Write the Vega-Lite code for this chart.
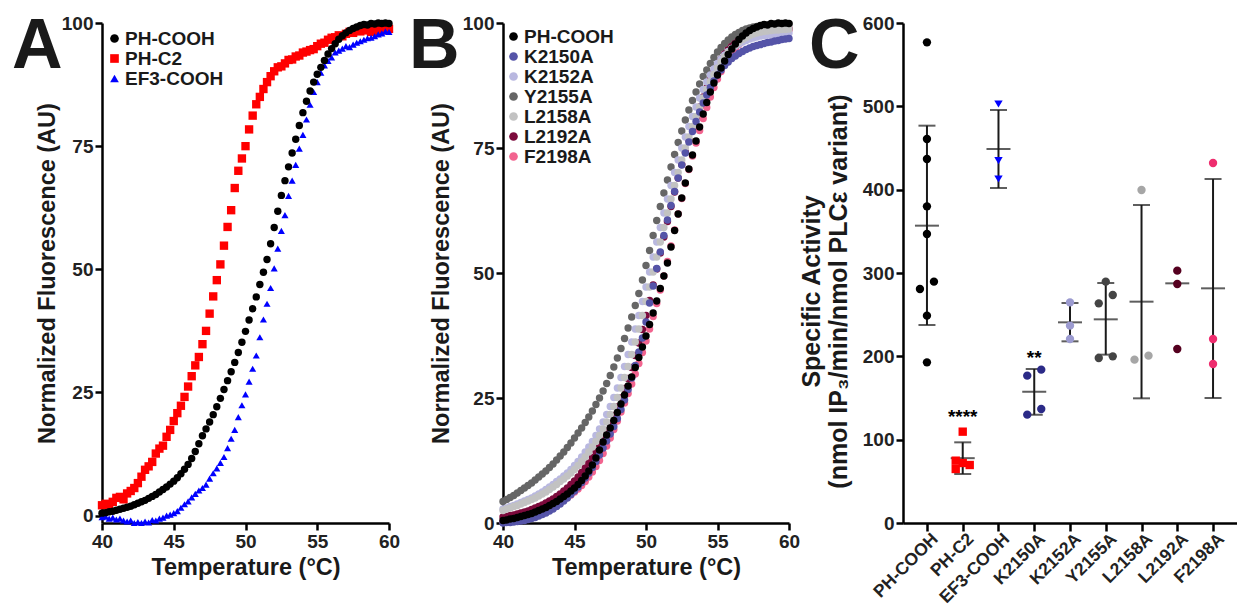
{
"$schema": "https://vega.github.io/schema/vega-lite/v6.json",
"background": "white",
"padding": {"left": 12, "top": 12, "right": 0, "bottom": 0},
"spacing": 114,
"bounds": "flush",
"config": {
  "font": "Liberation Sans",
  "view": {"stroke": null},
  "axis": {"grid": false, "domain": true, "ticks": true, "labelFlush": false, "domainColor": "#000", "domainWidth": 2.5, "tickColor": "#000", "tickWidth": 2.5, "tickSize": 7, "labelFont": "Liberation Sans", "labelFontSize": 19, "labelFontWeight": "bold", "labelColor": "#222", "labelPadding": 2, "titleFont": "Liberation Sans", "titleFontSize": 23.5, "titleFontWeight": "bold", "titleColor": "#1a1a1a"},
  "legend": {"labelFont": "Liberation Sans", "labelFontSize": 19, "labelFontWeight": "bold", "labelColor": "#1a1a1a", "padding": 0, "rowPadding": 0, "symbolStrokeWidth": 0},
  "title": {"font": "Liberation Sans", "fontWeight": "bold", "fontSize": 70, "color": "#1a1a1a", "anchor": "start", "frame": "group", "offset": 0}
},
"resolve": {"scale": {"x": "independent", "y": "independent", "color": "independent", "shape": "independent"}, "legend": {"color": "independent", "shape": "independent"}},
"datasets": {
"phcooh": [{"t":40,"v":0.5},{"t":40.25,"v":0.6},{"t":40.5,"v":0.8},{"t":40.75,"v":0.9},{"t":41,"v":1.1},{"t":41.25,"v":1.3},{"t":41.5,"v":1.5},{"t":41.75,"v":1.7},{"t":42,"v":1.9},{"t":42.25,"v":2.2},{"t":42.5,"v":2.5},{"t":42.75,"v":2.8},{"t":43,"v":3.1},{"t":43.25,"v":3.5},{"t":43.5,"v":3.9},{"t":43.75,"v":4.3},{"t":44,"v":4.8},{"t":44.25,"v":5.3},{"t":44.5,"v":5.8},{"t":44.75,"v":6.4},{"t":45,"v":7.0},{"t":45.25,"v":7.7},{"t":45.5,"v":8.5},{"t":45.75,"v":9.4},{"t":46,"v":10.4},{"t":46.25,"v":11.6},{"t":46.5,"v":13.0},{"t":46.75,"v":14.6},{"t":47,"v":16.2},{"t":47.25,"v":17.6},{"t":47.5,"v":19.0},{"t":47.75,"v":20.5},{"t":48,"v":22.1},{"t":48.25,"v":23.8},{"t":48.5,"v":25.6},{"t":48.75,"v":27.4},{"t":49,"v":29.2},{"t":49.25,"v":31.1},{"t":49.5,"v":33.1},{"t":49.75,"v":35.2},{"t":50,"v":37.4},{"t":50.25,"v":39.7},{"t":50.5,"v":42.0},{"t":50.75,"v":44.4},{"t":51,"v":46.9},{"t":51.25,"v":49.4},{"t":51.5,"v":52.0},{"t":51.75,"v":55.2},{"t":52,"v":58.5},{"t":52.25,"v":61.8},{"t":52.5,"v":65.0},{"t":52.75,"v":68.0},{"t":53,"v":70.8},{"t":53.25,"v":73.6},{"t":53.5,"v":76.4},{"t":53.75,"v":79.2},{"t":54,"v":81.8},{"t":54.25,"v":84.1},{"t":54.5,"v":86.2},{"t":54.75,"v":88.0},{"t":55,"v":89.6},{"t":55.25,"v":91.0},{"t":55.5,"v":92.4},{"t":55.75,"v":93.7},{"t":56,"v":94.8},{"t":56.25,"v":95.8},{"t":56.5,"v":96.7},{"t":56.75,"v":97.4},{"t":57,"v":98.0},{"t":57.25,"v":98.5},{"t":57.5,"v":98.9},{"t":57.75,"v":99.2},{"t":58,"v":99.5},{"t":58.25,"v":99.7},{"t":58.5,"v":99.6},{"t":58.75,"v":99.9},{"t":59,"v":99.8},{"t":59.25,"v":100},{"t":59.5,"v":99.9},{"t":59.75,"v":100},{"t":60,"v":99.9}],
"phc2": [{"t":40,"v":2.1},{"t":40.25,"v":2.4},{"t":40.5,"v":2.2},{"t":40.75,"v":2.8},{"t":41,"v":3.6},{"t":41.25,"v":3.8},{"t":41.5,"v":3.3},{"t":41.75,"v":4.5},{"t":42,"v":5.0},{"t":42.25,"v":5.6},{"t":42.5,"v":6.6},{"t":42.75,"v":7.9},{"t":43,"v":9.3},{"t":43.25,"v":10.0},{"t":43.5,"v":10.9},{"t":43.75,"v":12.6},{"t":44,"v":13.6},{"t":44.25,"v":14.2},{"t":44.5,"v":16.0},{"t":44.75,"v":17.4},{"t":45,"v":19.2},{"t":45.25,"v":20.8},{"t":45.5,"v":22.3},{"t":45.75,"v":24.1},{"t":46,"v":26.2},{"t":46.25,"v":28.3},{"t":46.5,"v":30.5},{"t":46.75,"v":32.2},{"t":47,"v":34.8},{"t":47.25,"v":37.5},{"t":47.5,"v":41.0},{"t":47.75,"v":44.5},{"t":48,"v":47.8},{"t":48.25,"v":51.0},{"t":48.5,"v":54.8},{"t":48.75,"v":58.6},{"t":49,"v":62.0},{"t":49.25,"v":66.5},{"t":49.5,"v":70.0},{"t":49.75,"v":72.5},{"t":50,"v":75.0},{"t":50.25,"v":78.4},{"t":50.5,"v":81.2},{"t":50.75,"v":83.5},{"t":51,"v":85.0},{"t":51.25,"v":86.6},{"t":51.5,"v":88.0},{"t":51.75,"v":89.2},{"t":52,"v":90.2},{"t":52.25,"v":91.0},{"t":52.5,"v":91.2},{"t":52.75,"v":91.8},{"t":53,"v":92.5},{"t":53.25,"v":92.6},{"t":53.5,"v":93.2},{"t":53.75,"v":93.4},{"t":54,"v":94.0},{"t":54.25,"v":94.2},{"t":54.5,"v":94.5},{"t":54.75,"v":94.7},{"t":55,"v":95.3},{"t":55.25,"v":95.8},{"t":55.5,"v":96.0},{"t":55.75,"v":96.6},{"t":56,"v":97.0},{"t":56.25,"v":97.1},{"t":56.5,"v":97.5},{"t":56.75,"v":97.3},{"t":57,"v":97.8},{"t":57.25,"v":98.2},{"t":57.5,"v":98.0},{"t":57.75,"v":98.4},{"t":58,"v":98.3},{"t":58.25,"v":98.7},{"t":58.5,"v":98.5},{"t":58.75,"v":98.2},{"t":59,"v":98.6},{"t":59.25,"v":98.4},{"t":59.5,"v":98.8},{"t":59.75,"v":98.5},{"t":60,"v":98.8}],
"ef3": [{"t":40,"v":-0.3},{"t":40.25,"v":-0.2},{"t":40.5,"v":-0.6},{"t":40.75,"v":-0.4},{"t":41,"v":-0.8},{"t":41.25,"v":-0.6},{"t":41.5,"v":-1.0},{"t":41.75,"v":-1.2},{"t":42,"v":-1.0},{"t":42.25,"v":-1.5},{"t":42.5,"v":-1.3},{"t":42.75,"v":-1.5},{"t":43,"v":-1.2},{"t":43.25,"v":-1.4},{"t":43.5,"v":-0.9},{"t":43.75,"v":-1.0},{"t":44,"v":-0.6},{"t":44.25,"v":-0.4},{"t":44.5,"v":0.0},{"t":44.75,"v":0.2},{"t":45,"v":0.5},{"t":45.25,"v":0.9},{"t":45.5,"v":1.6},{"t":45.75,"v":2.3},{"t":46,"v":2.9},{"t":46.25,"v":3.7},{"t":46.5,"v":4.4},{"t":46.75,"v":5.1},{"t":47,"v":5.6},{"t":47.25,"v":6.3},{"t":47.5,"v":7.5},{"t":47.75,"v":8.6},{"t":48,"v":9.6},{"t":48.25,"v":10.7},{"t":48.5,"v":11.9},{"t":48.75,"v":13.7},{"t":49,"v":15.6},{"t":49.25,"v":17.4},{"t":49.5,"v":20.0},{"t":49.75,"v":22.4},{"t":50,"v":24.6},{"t":50.25,"v":27.2},{"t":50.5,"v":29.8},{"t":50.75,"v":32.5},{"t":51,"v":36.2},{"t":51.25,"v":39.8},{"t":51.5,"v":43.0},{"t":51.75,"v":46.2},{"t":52,"v":50.2},{"t":52.25,"v":54.2},{"t":52.5,"v":57.8},{"t":52.75,"v":61.0},{"t":53,"v":64.9},{"t":53.25,"v":68.0},{"t":53.5,"v":71.2},{"t":53.75,"v":74.5},{"t":54,"v":77.3},{"t":54.25,"v":80.4},{"t":54.5,"v":83.4},{"t":54.75,"v":86.0},{"t":55,"v":88.0},{"t":55.25,"v":89.9},{"t":55.5,"v":91.4},{"t":55.75,"v":92.3},{"t":56,"v":93.0},{"t":56.25,"v":94.0},{"t":56.5,"v":94.4},{"t":56.75,"v":94.8},{"t":57,"v":95.3},{"t":57.25,"v":95.1},{"t":57.5,"v":95.6},{"t":57.75,"v":96.0},{"t":58,"v":96.3},{"t":58.25,"v":96.6},{"t":58.5,"v":96.9},{"t":58.75,"v":97.0},{"t":59,"v":97.3},{"t":59.25,"v":97.7},{"t":59.5,"v":97.9},{"t":59.75,"v":98.3},{"t":60,"v":98.2}],
"k2150a": [{"t":40,"v":0.0},{"t":40.25,"v":0.1},{"t":40.5,"v":0.1},{"t":40.75,"v":0.2},{"t":41,"v":0.3},{"t":41.25,"v":0.4},{"t":41.5,"v":0.5},{"t":41.75,"v":0.7},{"t":42,"v":0.9},{"t":42.25,"v":1.1},{"t":42.5,"v":1.4},{"t":42.75,"v":1.7},{"t":43,"v":2.0},{"t":43.25,"v":2.4},{"t":43.5,"v":2.8},{"t":43.75,"v":3.3},{"t":44,"v":3.8},{"t":44.25,"v":4.4},{"t":44.5,"v":5.0},{"t":44.75,"v":5.7},{"t":45,"v":6.4},{"t":45.25,"v":7.2},{"t":45.5,"v":8.1},{"t":45.75,"v":9.0},{"t":46,"v":10.0},{"t":46.25,"v":11.1},{"t":46.5,"v":12.3},{"t":46.75,"v":13.6},{"t":47,"v":15.0},{"t":47.25,"v":16.4},{"t":47.5,"v":17.8},{"t":47.75,"v":19.3},{"t":48,"v":20.9},{"t":48.25,"v":22.7},{"t":48.5,"v":24.6},{"t":48.75,"v":26.7},{"t":49,"v":29.0},{"t":49.25,"v":31.5},{"t":49.5,"v":34.2},{"t":49.75,"v":37.0},{"t":50,"v":40.2},{"t":50.25,"v":44.0},{"t":50.5,"v":47.4},{"t":50.75,"v":50.9},{"t":51,"v":54.2},{"t":51.25,"v":57.5},{"t":51.5,"v":60.6},{"t":51.75,"v":63.5},{"t":52,"v":66.3},{"t":52.25,"v":69.0},{"t":52.5,"v":71.6},{"t":52.75,"v":74.0},{"t":53,"v":76.2},{"t":53.25,"v":78.3},{"t":53.5,"v":80.3},{"t":53.75,"v":82.2},{"t":54,"v":84.0},{"t":54.25,"v":85.6},{"t":54.5,"v":87.1},{"t":54.75,"v":88.4},{"t":55,"v":89.6},{"t":55.25,"v":90.6},{"t":55.5,"v":91.5},{"t":55.75,"v":92.2},{"t":56,"v":92.9},{"t":56.25,"v":93.4},{"t":56.5,"v":93.9},{"t":56.75,"v":94.3},{"t":57,"v":94.7},{"t":57.25,"v":95.0},{"t":57.5,"v":95.3},{"t":57.75,"v":95.5},{"t":58,"v":95.7},{"t":58.25,"v":95.9},{"t":58.5,"v":96.1},{"t":58.75,"v":96.2},{"t":59,"v":96.4},{"t":59.25,"v":96.5},{"t":59.5,"v":96.7},{"t":59.75,"v":96.8},{"t":60,"v":96.9}],
"k2152a": [{"t":40,"v":2.8},{"t":40.25,"v":3.0},{"t":40.5,"v":3.3},{"t":40.75,"v":3.5},{"t":41,"v":3.8},{"t":41.25,"v":4.1},{"t":41.5,"v":4.4},{"t":41.75,"v":4.7},{"t":42,"v":5.0},{"t":42.25,"v":5.4},{"t":42.5,"v":5.8},{"t":42.75,"v":6.2},{"t":43,"v":6.7},{"t":43.25,"v":7.2},{"t":43.5,"v":7.7},{"t":43.75,"v":8.3},{"t":44,"v":8.8},{"t":44.25,"v":9.4},{"t":44.5,"v":10.0},{"t":44.75,"v":10.7},{"t":45,"v":11.5},{"t":45.25,"v":12.3},{"t":45.5,"v":13.2},{"t":45.75,"v":14.2},{"t":46,"v":15.2},{"t":46.25,"v":16.3},{"t":46.5,"v":17.5},{"t":46.75,"v":18.8},{"t":47,"v":20.2},{"t":47.25,"v":21.7},{"t":47.5,"v":23.3},{"t":47.75,"v":25.1},{"t":48,"v":27.0},{"t":48.25,"v":29.1},{"t":48.5,"v":31.3},{"t":48.75,"v":33.7},{"t":49,"v":36.2},{"t":49.25,"v":38.8},{"t":49.5,"v":41.5},{"t":49.75,"v":44.3},{"t":50,"v":47.2},{"t":50.25,"v":50.2},{"t":50.5,"v":53.2},{"t":50.75,"v":56.2},{"t":51,"v":59.1},{"t":51.25,"v":62.0},{"t":51.5,"v":64.8},{"t":51.75,"v":67.5},{"t":52,"v":70.1},{"t":52.25,"v":72.6},{"t":52.5,"v":75.0},{"t":52.75,"v":77.2},{"t":53,"v":79.3},{"t":53.25,"v":81.3},{"t":53.5,"v":83.2},{"t":53.75,"v":85.0},{"t":54,"v":86.7},{"t":54.25,"v":88.2},{"t":54.5,"v":89.6},{"t":54.75,"v":90.8},{"t":55,"v":91.9},{"t":55.25,"v":92.8},{"t":55.5,"v":93.6},{"t":55.75,"v":94.3},{"t":56,"v":94.9},{"t":56.25,"v":95.4},{"t":56.5,"v":95.8},{"t":56.75,"v":96.2},{"t":57,"v":96.5},{"t":57.25,"v":96.8},{"t":57.5,"v":97.0},{"t":57.75,"v":97.2},{"t":58,"v":97.4},{"t":58.25,"v":97.5},{"t":58.5,"v":97.6},{"t":58.75,"v":97.7},{"t":59,"v":97.8},{"t":59.25,"v":97.8},{"t":59.5,"v":97.9},{"t":59.75,"v":97.9},{"t":60,"v":98.0}],
"y2155a": [{"t":40,"v":4.3},{"t":40.25,"v":4.7},{"t":40.5,"v":5.1},{"t":40.75,"v":5.5},{"t":41,"v":6.0},{"t":41.25,"v":6.5},{"t":41.5,"v":7.0},{"t":41.75,"v":7.5},{"t":42,"v":8.0},{"t":42.25,"v":8.6},{"t":42.5,"v":9.2},{"t":42.75,"v":9.8},{"t":43,"v":10.4},{"t":43.25,"v":11.1},{"t":43.5,"v":11.8},{"t":43.75,"v":12.6},{"t":44,"v":13.4},{"t":44.25,"v":14.2},{"t":44.5,"v":15.1},{"t":44.75,"v":16.0},{"t":45,"v":17.0},{"t":45.25,"v":18.0},{"t":45.5,"v":19.0},{"t":45.75,"v":20.1},{"t":46,"v":21.2},{"t":46.25,"v":22.4},{"t":46.5,"v":23.7},{"t":46.75,"v":25.0},{"t":47,"v":26.4},{"t":47.25,"v":27.9},{"t":47.5,"v":29.5},{"t":47.75,"v":31.2},{"t":48,"v":33.0},{"t":48.25,"v":34.9},{"t":48.5,"v":36.9},{"t":48.75,"v":39.0},{"t":49,"v":41.2},{"t":49.25,"v":43.5},{"t":49.5,"v":45.9},{"t":49.75,"v":48.6},{"t":50,"v":51.5},{"t":50.25,"v":54.5},{"t":50.5,"v":57.5},{"t":50.75,"v":60.5},{"t":51,"v":63.3},{"t":51.25,"v":66.0},{"t":51.5,"v":68.6},{"t":51.75,"v":71.2},{"t":52,"v":73.7},{"t":52.25,"v":76.1},{"t":52.5,"v":78.4},{"t":52.75,"v":80.6},{"t":53,"v":82.6},{"t":53.25,"v":84.5},{"t":53.5,"v":86.2},{"t":53.75,"v":87.8},{"t":54,"v":89.3},{"t":54.25,"v":90.6},{"t":54.5,"v":91.9},{"t":54.75,"v":93.1},{"t":55,"v":94.2},{"t":55.25,"v":95.1},{"t":55.5,"v":95.9},{"t":55.75,"v":96.6},{"t":56,"v":97.2},{"t":56.25,"v":97.7},{"t":56.5,"v":98.1},{"t":56.75,"v":98.5},{"t":57,"v":98.8},{"t":57.25,"v":99.0},{"t":57.5,"v":99.2},{"t":57.75,"v":99.3},{"t":58,"v":99.4},{"t":58.25,"v":99.5},{"t":58.5,"v":99.5},{"t":58.75,"v":99.6},{"t":59,"v":99.6},{"t":59.25,"v":99.7},{"t":59.5,"v":99.7},{"t":59.75,"v":99.8},{"t":60,"v":99.8}],
"l2158a": [{"t":40,"v":2.5},{"t":40.25,"v":2.8},{"t":40.5,"v":3.0},{"t":40.75,"v":3.3},{"t":41,"v":3.5},{"t":41.25,"v":3.8},{"t":41.5,"v":4.1},{"t":41.75,"v":4.4},{"t":42,"v":4.7},{"t":42.25,"v":5.0},{"t":42.5,"v":5.4},{"t":42.75,"v":5.8},{"t":43,"v":6.2},{"t":43.25,"v":6.7},{"t":43.5,"v":7.2},{"t":43.75,"v":7.7},{"t":44,"v":8.3},{"t":44.25,"v":8.8},{"t":44.5,"v":9.4},{"t":44.75,"v":10.0},{"t":45,"v":10.7},{"t":45.25,"v":11.5},{"t":45.5,"v":12.3},{"t":45.75,"v":13.2},{"t":46,"v":14.2},{"t":46.25,"v":15.2},{"t":46.5,"v":16.3},{"t":46.75,"v":17.5},{"t":47,"v":18.8},{"t":47.25,"v":20.2},{"t":47.5,"v":21.7},{"t":47.75,"v":23.3},{"t":48,"v":25.1},{"t":48.25,"v":27.0},{"t":48.5,"v":29.1},{"t":48.75,"v":31.3},{"t":49,"v":33.7},{"t":49.25,"v":36.2},{"t":49.5,"v":38.8},{"t":49.75,"v":41.5},{"t":50,"v":44.3},{"t":50.25,"v":47.2},{"t":50.5,"v":50.2},{"t":50.75,"v":53.2},{"t":51,"v":56.2},{"t":51.25,"v":59.1},{"t":51.5,"v":62.0},{"t":51.75,"v":64.8},{"t":52,"v":67.5},{"t":52.25,"v":70.1},{"t":52.5,"v":72.6},{"t":52.75,"v":75.0},{"t":53,"v":77.2},{"t":53.25,"v":79.3},{"t":53.5,"v":81.3},{"t":53.75,"v":83.2},{"t":54,"v":85.0},{"t":54.25,"v":86.7},{"t":54.5,"v":88.3},{"t":54.75,"v":89.7},{"t":55,"v":91.0},{"t":55.25,"v":92.2},{"t":55.5,"v":93.2},{"t":55.75,"v":94.1},{"t":56,"v":94.9},{"t":56.25,"v":95.6},{"t":56.5,"v":96.2},{"t":56.75,"v":96.7},{"t":57,"v":97.1},{"t":57.25,"v":97.5},{"t":57.5,"v":97.8},{"t":57.75,"v":98.0},{"t":58,"v":98.2},{"t":58.25,"v":98.3},{"t":58.5,"v":98.4},{"t":58.75,"v":98.5},{"t":59,"v":98.6},{"t":59.25,"v":98.6},{"t":59.5,"v":98.7},{"t":59.75,"v":98.7},{"t":60,"v":98.8}],
"l2192a": [{"t":40,"v":1.2},{"t":40.25,"v":1.3},{"t":40.5,"v":1.5},{"t":40.75,"v":1.6},{"t":41,"v":1.8},{"t":41.25,"v":2.0},{"t":41.5,"v":2.2},{"t":41.75,"v":2.4},{"t":42,"v":2.7},{"t":42.25,"v":3.0},{"t":42.5,"v":3.3},{"t":42.75,"v":3.6},{"t":43,"v":4.0},{"t":43.25,"v":4.4},{"t":43.5,"v":4.8},{"t":43.75,"v":5.3},{"t":44,"v":5.8},{"t":44.25,"v":6.4},{"t":44.5,"v":7.0},{"t":44.75,"v":7.7},{"t":45,"v":8.4},{"t":45.25,"v":9.2},{"t":45.5,"v":10.1},{"t":45.75,"v":11.0},{"t":46,"v":12.0},{"t":46.25,"v":13.1},{"t":46.5,"v":14.3},{"t":46.75,"v":15.6},{"t":47,"v":17.0},{"t":47.25,"v":18.4},{"t":47.5,"v":19.9},{"t":47.75,"v":21.5},{"t":48,"v":23.2},{"t":48.25,"v":25.0},{"t":48.5,"v":26.9},{"t":48.75,"v":28.9},{"t":49,"v":31.1},{"t":49.25,"v":33.5},{"t":49.5,"v":36.0},{"t":49.75,"v":38.7},{"t":50,"v":41.5},{"t":50.25,"v":44.5},{"t":50.5,"v":47.6},{"t":50.75,"v":50.8},{"t":51,"v":54.0},{"t":51.25,"v":57.2},{"t":51.5,"v":60.3},{"t":51.75,"v":63.3},{"t":52,"v":66.2},{"t":52.25,"v":69.0},{"t":52.5,"v":71.7},{"t":52.75,"v":74.2},{"t":53,"v":76.6},{"t":53.25,"v":78.9},{"t":53.5,"v":81.1},{"t":53.75,"v":83.2},{"t":54,"v":85.2},{"t":54.25,"v":87.0},{"t":54.5,"v":88.7},{"t":54.75,"v":90.2},{"t":55,"v":91.6},{"t":55.25,"v":92.8},{"t":55.5,"v":93.9},{"t":55.75,"v":94.8},{"t":56,"v":95.6},{"t":56.25,"v":96.3},{"t":56.5,"v":96.9},{"t":56.75,"v":97.3},{"t":57,"v":97.7},{"t":57.25,"v":98.0},{"t":57.5,"v":98.2},{"t":57.75,"v":98.4},{"t":58,"v":98.5},{"t":58.25,"v":98.6},{"t":58.5,"v":98.7},{"t":58.75,"v":98.7},{"t":59,"v":98.8},{"t":59.25,"v":98.8},{"t":59.5,"v":98.9},{"t":59.75,"v":98.9},{"t":60,"v":98.9}],
"f2198a": [{"t":40,"v":0.3},{"t":40.25,"v":0.4},{"t":40.5,"v":0.5},{"t":40.75,"v":0.6},{"t":41,"v":0.8},{"t":41.25,"v":0.9},{"t":41.5,"v":1.1},{"t":41.75,"v":1.3},{"t":42,"v":1.5},{"t":42.25,"v":1.7},{"t":42.5,"v":2.0},{"t":42.75,"v":2.3},{"t":43,"v":2.6},{"t":43.25,"v":2.9},{"t":43.5,"v":3.3},{"t":43.75,"v":3.7},{"t":44,"v":4.1},{"t":44.25,"v":4.6},{"t":44.5,"v":5.1},{"t":44.75,"v":5.6},{"t":45,"v":6.2},{"t":45.25,"v":6.8},{"t":45.5,"v":7.5},{"t":45.75,"v":8.3},{"t":46,"v":9.2},{"t":46.25,"v":10.2},{"t":46.5,"v":11.3},{"t":46.75,"v":12.5},{"t":47,"v":13.9},{"t":47.25,"v":15.4},{"t":47.5,"v":17.0},{"t":47.75,"v":18.7},{"t":48,"v":20.4},{"t":48.25,"v":22.2},{"t":48.5,"v":24.0},{"t":48.75,"v":25.9},{"t":49,"v":27.8},{"t":49.25,"v":29.8},{"t":49.5,"v":31.9},{"t":49.75,"v":34.1},{"t":50,"v":36.4},{"t":50.25,"v":38.8},{"t":50.5,"v":41.3},{"t":50.75,"v":43.9},{"t":51,"v":46.6},{"t":51.25,"v":49.4},{"t":51.5,"v":52.3},{"t":51.75,"v":55.4},{"t":52,"v":58.6},{"t":52.25,"v":61.8},{"t":52.5,"v":64.9},{"t":52.75,"v":67.9},{"t":53,"v":70.7},{"t":53.25,"v":73.4},{"t":53.5,"v":76.0},{"t":53.75,"v":78.5},{"t":54,"v":80.9},{"t":54.25,"v":83.1},{"t":54.5,"v":85.2},{"t":54.75,"v":87.1},{"t":55,"v":88.8},{"t":55.25,"v":90.3},{"t":55.5,"v":91.7},{"t":55.75,"v":92.9},{"t":56,"v":94.0},{"t":56.25,"v":94.9},{"t":56.5,"v":95.7},{"t":56.75,"v":96.3},{"t":57,"v":96.9},{"t":57.25,"v":97.3},{"t":57.5,"v":97.6},{"t":57.75,"v":97.9},{"t":58,"v":98.1},{"t":58.25,"v":98.2},{"t":58.5,"v":98.3},{"t":58.75,"v":98.4},{"t":59,"v":98.4},{"t":59.25,"v":98.5},{"t":59.5,"v":98.5},{"t":59.75,"v":98.6},{"t":60,"v":98.6}],
"activity": [
{"variant":"PH-COOH","value":576.8,"side":0},{"variant":"PH-COOH","value":460.8,"side":0},{"variant":"PH-COOH","value":436.8,"side":0},{"variant":"PH-COOH","value":380.0,"side":0},{"variant":"PH-COOH","value":346.8,"side":0},{"variant":"PH-COOH","value":280.8,"side":-1},{"variant":"PH-COOH","value":289.6,"side":1},{"variant":"PH-COOH","value":248.8,"side":0},{"variant":"PH-COOH","value":192.8,"side":0},
{"variant":"PH-C2","value":109.6,"side":0},{"variant":"PH-C2","value":74.8,"side":-1},{"variant":"PH-C2","value":64.8,"side":-1},{"variant":"PH-C2","value":69.6,"side":1},{"variant":"PH-C2","value":72.0,"side":0},
{"variant":"EF3-COOH","value":502.8,"side":0},{"variant":"EF3-COOH","value":434.8,"side":0},{"variant":"EF3-COOH","value":412.8,"side":0},
{"variant":"K2150A","value":176.8,"side":-1},{"variant":"K2150A","value":184.0,"side":1},{"variant":"K2150A","value":136.8,"side":1},{"variant":"K2150A","value":130.0,"side":-1},
{"variant":"K2152A","value":264.8,"side":0},{"variant":"K2152A","value":236.8,"side":0},{"variant":"K2152A","value":220.8,"side":0},
{"variant":"Y2155A","value":289.6,"side":0},{"variant":"Y2155A","value":273.6,"side":1},{"variant":"Y2155A","value":263.6,"side":-1},{"variant":"Y2155A","value":198.0,"side":-1},{"variant":"Y2155A","value":200.0,"side":1},
{"variant":"L2158A","value":399.6,"side":0},{"variant":"L2158A","value":196.0,"side":-1},{"variant":"L2158A","value":200.8,"side":1},
{"variant":"L2192A","value":302.8,"side":0},{"variant":"L2192A","value":286.8,"side":0},{"variant":"L2192A","value":208.8,"side":0},
{"variant":"F2198A","value":432.0,"side":0},{"variant":"F2198A","value":220.8,"side":0},{"variant":"F2198A","value":190.8,"side":0}],
"summary": [
{"variant":"PH-COOH","mean":356.8,"lo":237.6,"hi":476.8},
{"variant":"PH-C2","mean":77.8,"lo":58.8,"hi":96.8,"sig":"****","sigY":132},
{"variant":"EF3-COOH","mean":448.8,"lo":402,"hi":495.6},
{"variant":"K2150A","mean":157.6,"lo":130,"hi":184.8,"sig":"**","sigY":203},
{"variant":"K2152A","mean":240.8,"lo":218,"hi":264},
{"variant":"Y2155A","mean":244.4,"lo":202,"hi":288},
{"variant":"L2158A","mean":265.6,"lo":149.6,"hi":381.6},
{"variant":"L2192A","mean":287.6},
{"variant":"F2198A","mean":281.6,"lo":150,"hi":412.8}]
},
"hconcat": [
{
  "width": 287, "height": 500,
  "title": {"text": "A", "dx": -90, "dy": 73},
  "encoding": {
    "x": {"field": "t", "type": "quantitative", "scale": {"domain": [40, 60], "nice": false, "zero": false}, "axis": {"values": [40, 45, 50, 55, 60], "title": "Temperature (°C)", "titlePadding": 4}},
    "y": {"field": "v", "type": "quantitative", "scale": {"domain": [-1.5, 100], "nice": false, "zero": false}, "axis": {"values": [0, 25, 50, 75, 100], "title": "Normalized Fluorescence (AU)", "titlePadding": 2}}
  },
  "layer": [
    {"data": {"name": "phc2"}, "mark": {"type": "point", "filled": true, "size": 70, "opacity": 1},
     "encoding": {
       "color": {"datum": "PH-C2", "scale": {"domain": ["PH-COOH", "PH-C2", "EF3-COOH"], "range": ["#000000", "#ff0000", "#0000ff"]}, "legend": {"title": null, "orient": "none", "legendX": 3, "legendY": 6, "labelOffset": 1, "symbolSize": 75}},
       "shape": {"datum": "PH-C2", "scale": {"domain": ["PH-COOH", "PH-C2", "EF3-COOH"], "range": ["circle", "square", "triangle-up"]}, "legend": {"title": null, "orient": "none", "legendX": 3, "legendY": 6, "labelOffset": 1, "symbolSize": 75}}
     }},
    {"data": {"name": "ef3"}, "mark": {"type": "point", "filled": true, "size": 50, "opacity": 1},
     "encoding": {"color": {"datum": "EF3-COOH"}, "shape": {"datum": "EF3-COOH"}}},
    {"data": {"name": "phcooh"}, "mark": {"type": "point", "filled": true, "size": 55, "opacity": 1},
     "encoding": {"color": {"datum": "PH-COOH"}, "shape": {"datum": "PH-COOH"}}}
  ]
},
{
  "width": 286, "height": 500,
  "title": {"text": "B", "dx": -94, "dy": 73},
  "encoding": {
    "x": {"field": "t", "type": "quantitative", "scale": {"domain": [40, 60], "nice": false, "zero": false}, "axis": {"values": [40, 45, 50, 55, 60], "title": "Temperature (°C)", "titlePadding": 4}},
    "y": {"field": "v", "type": "quantitative", "scale": {"domain": [0, 100], "nice": false, "zero": false}, "axis": {"values": [0, 25, 50, 75, 100], "title": "Normalized Fluorescence (AU)", "titlePadding": 9}}
  },
  "layer": [
    {"data": {"name": "f2198a"}, "mark": {"type": "point", "filled": true, "size": 55, "opacity": 1},
     "encoding": {"color": {"datum": "F2198A", "scale": {"domain": ["PH-COOH", "K2150A", "K2152A", "Y2155A", "L2158A", "L2192A", "F2198A"], "range": ["#000000", "#5554a8", "#b9b8e0", "#666666", "#c2c2c2", "#7c0a3c", "#f2648f"]}, "legend": {"title": null, "orient": "none", "legendX": 1, "legendY": 4, "labelOffset": 1, "symbolSize": 75, "rowPadding": -0.6}}}},
    {"data": {"name": "l2192a"}, "mark": {"type": "point", "filled": true, "size": 55, "opacity": 1}, "encoding": {"color": {"datum": "L2192A"}}},
    {"data": {"name": "y2155a"}, "mark": {"type": "point", "filled": true, "size": 55, "opacity": 1}, "encoding": {"color": {"datum": "Y2155A"}}},
    {"data": {"name": "k2152a"}, "mark": {"type": "point", "filled": true, "size": 55, "opacity": 1}, "encoding": {"color": {"datum": "K2152A"}}},
    {"data": {"name": "l2158a"}, "mark": {"type": "point", "filled": true, "size": 55, "opacity": 1}, "encoding": {"color": {"datum": "L2158A"}}},
    {"data": {"name": "k2150a"}, "mark": {"type": "point", "filled": true, "size": 55, "opacity": 1}, "encoding": {"color": {"datum": "K2150A"}}},
    {"data": {"name": "phcooh"}, "mark": {"type": "point", "filled": true, "size": 55, "opacity": 1}, "encoding": {"color": {"datum": "PH-COOH"}}}
  ]
},
{
  "width": 334, "height": 500,
  "title": {"text": "C", "dx": -94, "dy": 73},
  "encoding": {
    "x": {"field": "variant", "type": "nominal", "scale": {"type": "point", "domain": ["PH-COOH", "PH-C2", "EF3-COOH", "K2150A", "K2152A", "Y2155A", "L2158A", "L2192A", "F2198A"], "padding": 0.67}, "axis": {"title": null, "domain": true, "ticks": true, "labelAngle": -45, "labelAlign": "right", "labelBaseline": "middle", "labelFontSize": 17.5, "labelPadding": 5, "labelOffset": 8, "tickSize": 8}}
  },
  "layer": [
    {"data": {"name": "summary"}, "mark": {"type": "rule", "color": "#1a1a1a", "strokeWidth": 2},
     "encoding": {"y": {"field": "lo", "type": "quantitative", "scale": {"domain": [0, 600], "nice": false}, "axis": {"values": [0, 100, 200, 300, 400, 500, 600], "title": ["Specific Activity", "(nmol IP₃/min/nmol PLCε variant)"], "titlePadding": 11, "titleLineHeight": 27, "titleFontSize": 25, "titleY": 268}}, "y2": {"field": "hi"}}},
    {"data": {"name": "summary"}, "mark": {"type": "tick", "color": "#1a1a1a", "thickness": 2, "size": 17},
     "encoding": {"y": {"field": "lo", "type": "quantitative", "axis": {"values": [0, 100, 200, 300, 400, 500, 600], "title": ["Specific Activity", "(nmol IP₃/min/nmol PLCε variant)"], "titlePadding": 11, "titleLineHeight": 27, "titleFontSize": 25, "titleY": 268}}}},
    {"data": {"name": "summary"}, "mark": {"type": "tick", "color": "#1a1a1a", "thickness": 2, "size": 17},
     "encoding": {"y": {"field": "hi", "type": "quantitative", "axis": {"values": [0, 100, 200, 300, 400, 500, 600], "title": ["Specific Activity", "(nmol IP₃/min/nmol PLCε variant)"], "titlePadding": 11, "titleLineHeight": 27, "titleFontSize": 25, "titleY": 268}}}},
    {"data": {"name": "summary"}, "mark": {"type": "tick", "color": "#1a1a1a", "thickness": 2, "size": 24},
     "encoding": {"y": {"field": "mean", "type": "quantitative", "axis": {"values": [0, 100, 200, 300, 400, 500, 600], "title": ["Specific Activity", "(nmol IP₃/min/nmol PLCε variant)"], "titlePadding": 11, "titleLineHeight": 27, "titleFontSize": 25, "titleY": 268}}}},
    {"data": {"name": "activity"}, "transform": [{"filter": "datum.side == 0"}], "mark": {"type": "point", "filled": true, "size": 70, "opacity": 1},
     "encoding": {
       "y": {"field": "value", "type": "quantitative", "axis": {"values": [0, 100, 200, 300, 400, 500, 600], "title": ["Specific Activity", "(nmol IP₃/min/nmol PLCε variant)"], "titlePadding": 11, "titleLineHeight": 27, "titleFontSize": 25, "titleY": 268}},
       "color": {"field": "variant", "type": "nominal", "scale": {"domain": ["PH-COOH", "PH-C2", "EF3-COOH", "K2150A", "K2152A", "Y2155A", "L2158A", "L2192A", "F2198A"], "range": ["#000000", "#ff0000", "#0000ff", "#2b2a87", "#9c9bd0", "#444444", "#a6a6a6", "#55001f", "#ee2d6e"]}, "legend": null},
       "shape": {"field": "variant", "type": "nominal", "scale": {"domain": ["PH-COOH", "PH-C2", "EF3-COOH", "K2150A", "K2152A", "Y2155A", "L2158A", "L2192A", "F2198A"], "range": ["circle", "square", "triangle-down", "circle", "circle", "circle", "circle", "circle", "circle"]}, "legend": null}
     }},
    {"data": {"name": "activity"}, "transform": [{"filter": "datum.side == -1"}], "mark": {"type": "point", "filled": true, "size": 70, "opacity": 1, "xOffset": -7},
     "encoding": {
       "y": {"field": "value", "type": "quantitative", "axis": {"values": [0, 100, 200, 300, 400, 500, 600], "title": ["Specific Activity", "(nmol IP₃/min/nmol PLCε variant)"], "titlePadding": 11, "titleLineHeight": 27, "titleFontSize": 25, "titleY": 268}},
       "color": {"field": "variant", "type": "nominal", "legend": null},
       "shape": {"field": "variant", "type": "nominal", "legend": null}
     }},
    {"data": {"name": "activity"}, "transform": [{"filter": "datum.side == 1"}], "mark": {"type": "point", "filled": true, "size": 70, "opacity": 1, "xOffset": 7},
     "encoding": {
       "y": {"field": "value", "type": "quantitative", "axis": {"values": [0, 100, 200, 300, 400, 500, 600], "title": ["Specific Activity", "(nmol IP₃/min/nmol PLCε variant)"], "titlePadding": 11, "titleLineHeight": 27, "titleFontSize": 25, "titleY": 268}},
       "color": {"field": "variant", "type": "nominal", "legend": null},
       "shape": {"field": "variant", "type": "nominal", "legend": null}
     }},
    {"data": {"name": "summary"}, "transform": [{"filter": "datum.sig != null"}], "mark": {"type": "text", "fontSize": 19, "fontWeight": "bold", "color": "#000", "baseline": "middle", "dy": 4},
     "encoding": {"y": {"field": "sigY", "type": "quantitative", "axis": {"values": [0, 100, 200, 300, 400, 500, 600], "title": ["Specific Activity", "(nmol IP₃/min/nmol PLCε variant)"], "titlePadding": 11, "titleLineHeight": 27, "titleFontSize": 25, "titleY": 268}}, "text": {"field": "sig"}}}
  ]
}
]
}
